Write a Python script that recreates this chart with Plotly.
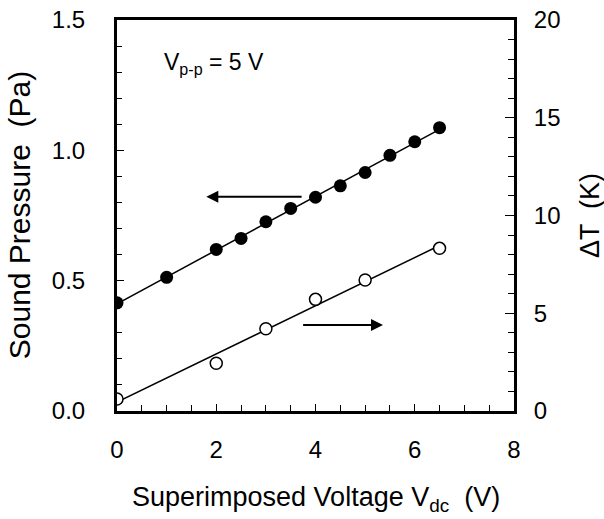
import numpy as np
import plotly.graph_objects as go

# Data
v_sound = [0, 1, 2, 2.5, 3, 3.5, 4, 4.5, 5, 5.5, 6, 6.5]
sound_pressure = [0.415, 0.513, 0.620, 0.662, 0.726, 0.777, 0.820, 0.864, 0.915, 0.981, 1.033, 1.087]
v_temp = [0, 2, 3, 4, 5, 6.5]
delta_t = [0.61, 2.44, 4.21, 5.71, 6.70, 8.32]

FONT = "Arial, Liberation Sans, sans-serif"

# linear fits
p1 = np.polyfit(v_sound, sound_pressure, 1)
p2 = np.polyfit(v_temp, delta_t, 1)
fx1 = np.array([min(v_sound), max(v_sound)])
fx2 = np.array([min(v_temp), max(v_temp)])

fig = go.Figure()
fig.add_trace(go.Scatter(x=fx1, y=np.polyval(p1, fx1), mode="lines",
                         line=dict(color="black", width=1.5), showlegend=False))
fig.add_trace(go.Scatter(x=v_sound, y=sound_pressure, mode="markers",
                         marker=dict(color="black", size=13, line=dict(width=0)),
                         showlegend=False))
fig.add_trace(go.Scatter(x=fx2, y=np.polyval(p2, fx2), mode="lines", yaxis="y2",
                         line=dict(color="black", width=1.5), showlegend=False))
fig.add_trace(go.Scatter(x=v_temp, y=delta_t, mode="markers", yaxis="y2",
                         marker=dict(color="white", size=12, line=dict(color="black", width=1.5)),
                         showlegend=False))

axis_common = dict(showline=True, linecolor="black", linewidth=3, showgrid=False,
                   zeroline=False, ticks="inside", tickcolor="black", tickwidth=1.2,
                   automargin=False,
                   tickfont=dict(family=FONT, size=24, color="black"))

fig.update_layout(
    width=604, height=519,
    margin=dict(l=117, r=90, t=20, b=108, autoexpand=False),
    paper_bgcolor="white", plot_bgcolor="white",
    font=dict(family=FONT, color="black"),
    xaxis=dict(range=[0, 8], dtick=2, tick0=0, ticklen=7, mirror=True,
               ticklabelstandoff=15,
               minor=dict(dtick=0.5, ticks="inside", ticklen=6, tickcolor="black", tickwidth=1.2),
               **axis_common),
    yaxis=dict(range=[0, 1.5], dtick=0.5, tick0=0, ticklen=7, tickformat=".1f",
               ticklabelstandoff=24,
               minor=dict(dtick=0.1, ticks="inside", ticklen=5, tickcolor="black", tickwidth=1.2),
               **axis_common),
    yaxis2=dict(range=[0, 20], dtick=5, tick0=0, ticklen=9, overlaying="y", side="right",
                ticklabelstandoff=12,
                minor=dict(dtick=1, ticks="inside", ticklen=6, tickcolor="black", tickwidth=1.2),
                **axis_common),
)

annotations = [
    dict(text="Superimposed Voltage V<sub>dc</sub>  (V)", xref="paper", yref="paper",
         x=0.5, y=-0.226, xanchor="center", yanchor="middle", showarrow=False,
         font=dict(family=FONT, size=27, color="black")),
    dict(text="Sound Pressure  (Pa)", xref="paper", yref="paper",
         x=-0.245, y=0.5, xanchor="center", yanchor="middle", textangle=-90, showarrow=False,
         font=dict(family=FONT, size=30, color="black")),
    dict(text="ΔT  (K)", xref="paper", yref="paper",
         x=1.19, y=0.5, xanchor="center", yanchor="middle", textangle=-90, showarrow=False,
         font=dict(family=FONT, size=27, color="black")),
    dict(text="V<sub>p-p</sub> = 5 V", xref="x", yref="y", x=0.9, y=1.335,
         xanchor="left", yanchor="middle", showarrow=False,
         font=dict(family=FONT, size=23, color="black")),
    # arrows
    dict(x=1.8, y=0.822, ax=3.75, ay=0.822, xref="x", yref="y", axref="x", ayref="y",
         text="", showarrow=True, arrowhead=2, arrowsize=1.2, arrowwidth=2, arrowcolor="black"),
    dict(x=5.36, y=0.33, ax=3.72, ay=0.33, xref="x", yref="y", axref="x", ayref="y",
         text="", showarrow=True, arrowhead=2, arrowsize=1.2, arrowwidth=2, arrowcolor="black"),
]
fig.update_layout(annotations=annotations)

fig.write_html("out.html", config={"displayModeBar": False},
               post_script="document.body.style.margin='0';")
